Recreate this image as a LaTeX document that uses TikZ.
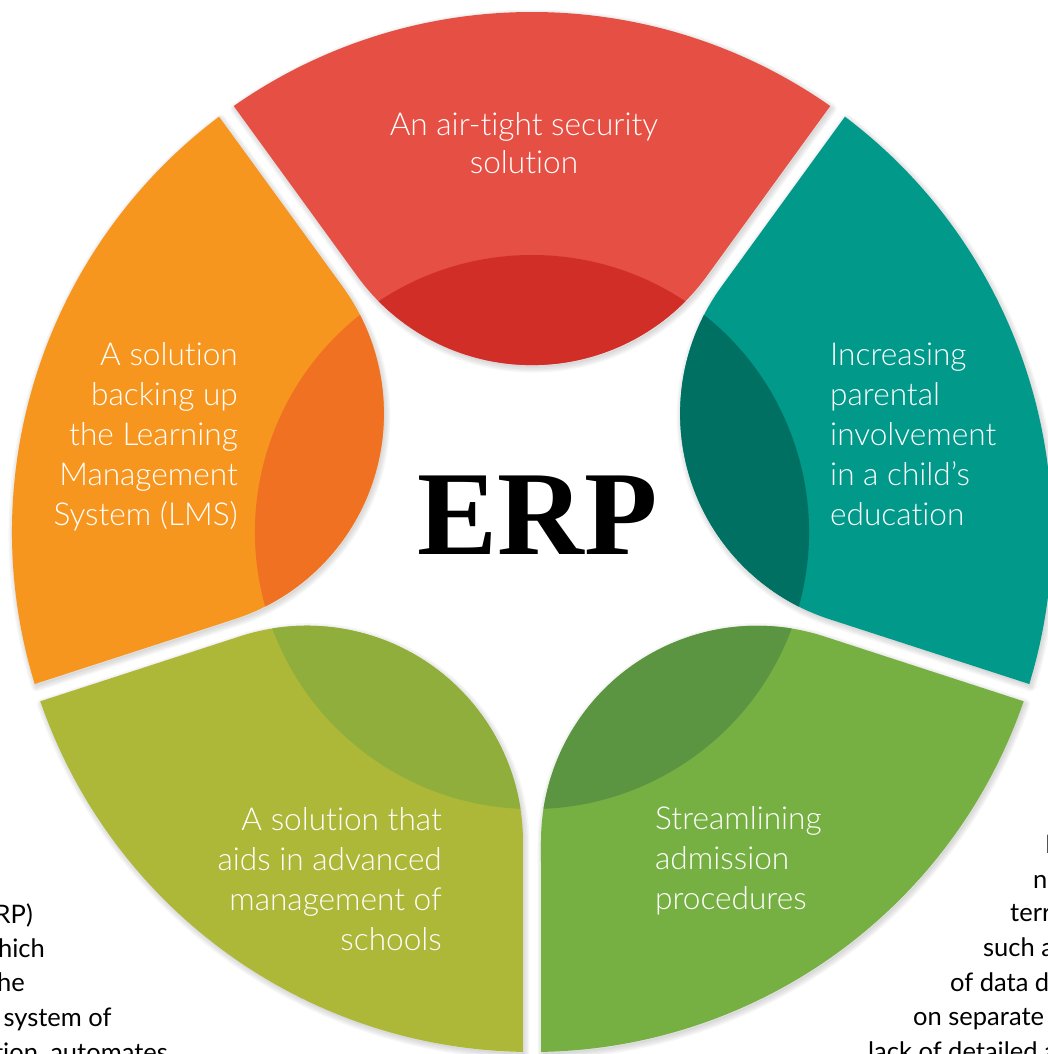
\documentclass[tikz,border=0pt]{standalone}
\usepackage{fontspec}
\setmainfont{Lato}[Ligatures=NoCommon]
\newfontfamily\thinfont{Lato Light}[Ligatures=NoCommon]
\newfontfamily\erpfont{Liberation Serif}

% petal colours: main tint and the darker inner lens
\definecolor{redA}{HTML}{E64F44}
\definecolor{redB}{HTML}{D12E27}
\definecolor{orangeA}{HTML}{F7961F}
\definecolor{orangeB}{HTML}{F17122}
\definecolor{tealA}{HTML}{00998A}
\definecolor{tealB}{HTML}{007062}
\definecolor{oliveA}{HTML}{ADB838}
\definecolor{oliveB}{HTML}{90AE3B}
\definecolor{greenA}{HTML}{77B042}
\definecolor{greenB}{HTML}{5B9541}

% One petal, axis pointing up: outer rim of radius 520, straight sides
% 9 units off the 72-degree wedge borders, and an inner end that is a
% circle (radius 216.1, centre at 383) tangent to both sides.
\newcommand\petaloutline{(125:520pt) arc[start angle=125,end angle=55,radius=520pt]
  -- (174.85pt,255.96pt) arc[start angle=-36,end angle=-144,radius=216.1pt] -- cycle}

\newcommand\petalshadow[1]{%
  \begin{scope}[shift={(1.5pt,-2.5pt)}]
    \begin{scope}[rotate=#1]
      \fill[black,opacity=0.04] \petaloutline;
      \foreach \w in {10,7,4}{\draw[black,opacity=0.035,line width=\w pt,line join=round] \petaloutline;}
    \end{scope}
  \end{scope}}

\newcommand\drawpetal[3]{%
  \begin{scope}[rotate=#1]
    \fill[#2] \petaloutline;
    \begin{scope}
      \clip \petaloutline;
      \fill[#3] (0,0) circle[radius=277pt];
    \end{scope}
  \end{scope}}

\tikzset{
  petaltext/.style={text=white,inner sep=0pt,font=\thinfont\fontsize{31.6}{40}\selectfont},
  bgtext/.style={text=black,inner sep=0pt,font=\fontsize{25.5}{30}\selectfont},
}

\begin{document}
\begin{tikzpicture}[x=1pt,y=1pt]
  \useasboundingbox (-532,-522) rectangle (516,532);
  \fill[white] (-532,-522) rectangle (516,532);

  % soft shadows under all five petals
  \petalshadow{0}
  \petalshadow{-72}
  \petalshadow{-144}
  \petalshadow{144}
  \petalshadow{72}

  % the five petals
  \drawpetal{0}{redA}{redB}
  \drawpetal{-72}{tealA}{tealB}
  \drawpetal{-144}{greenA}{greenB}
  \drawpetal{144}{oliveA}{oliveB}
  \drawpetal{72}{orangeA}{orangeB}

  % petal captions
  \node[petaltext,font=\thinfont\fontsize{31.6}{38}\selectfont,anchor=base] (security) at (-8,396.3)
    {\begin{tabular}[t]{@{}c@{}}An air-tight security\\solution\end{tabular}};
  \node[petaltext,anchor=base east] (lms) at (-294,166.3)
    {\begin{tabular}[t]{@{}r@{}}A solution\\backing up\\the Learning\\Management\\System (LMS)\end{tabular}};
  \node[petaltext,anchor=base west] (parents) at (298,166)
    {\begin{tabular}[t]{@{}l@{}}Increasing\\parental\\involvement\\in a child’s\\education\end{tabular}};
  \node[petaltext,anchor=base east] (schools) at (-90,-298)
    {\begin{tabular}[t]{@{}r@{}}A solution that\\aids in advanced\\management of\\schools\end{tabular}};
  \node[petaltext,anchor=base west] (admission) at (123,-297)
    {\begin{tabular}[t]{@{}l@{}}Streamlining\\admission\\procedures\end{tabular}};

  % centre title
  \node[anchor=base,inner sep=0pt,font=\erpfont\bfseries\fontsize{120}{120}\selectfont] (erp) at (5.5,-23) {ERP};

  % running text at the lower corners, cut by the page edges
  \node[bgtext,anchor=base east] (l1) at (-499,-391.3) {RP)};
  \node[bgtext,anchor=base east] (l2) at (-487,-425.3) {hich};
  \node[bgtext,anchor=base east] (l3) at (-507,-459.7) {he};
  \node[bgtext,anchor=base east] (l4) at (-420.3,-494.7) {n system of};
  \node[bgtext,anchor=base east] (l5) at (-364,-529) {tion, automates};

  \node[bgtext,anchor=base west] (r1) at (513,-321) {I};
  \node[bgtext,anchor=base west] (r2) at (501,-356) {n};
  \node[bgtext,anchor=base west] (r3) at (478,-389.7) {terr};
  \node[bgtext,anchor=base west] (r4) at (451,-424.7) {such a};
  \node[bgtext,anchor=base west] (r5) at (418,-459) {of data d};
  \node[bgtext,anchor=base west] (r6) at (381,-493) {on separate};
  \node[bgtext,anchor=base west] (r7) at (336,-528) {lack of detailed a};
\end{tikzpicture}
\end{document}
